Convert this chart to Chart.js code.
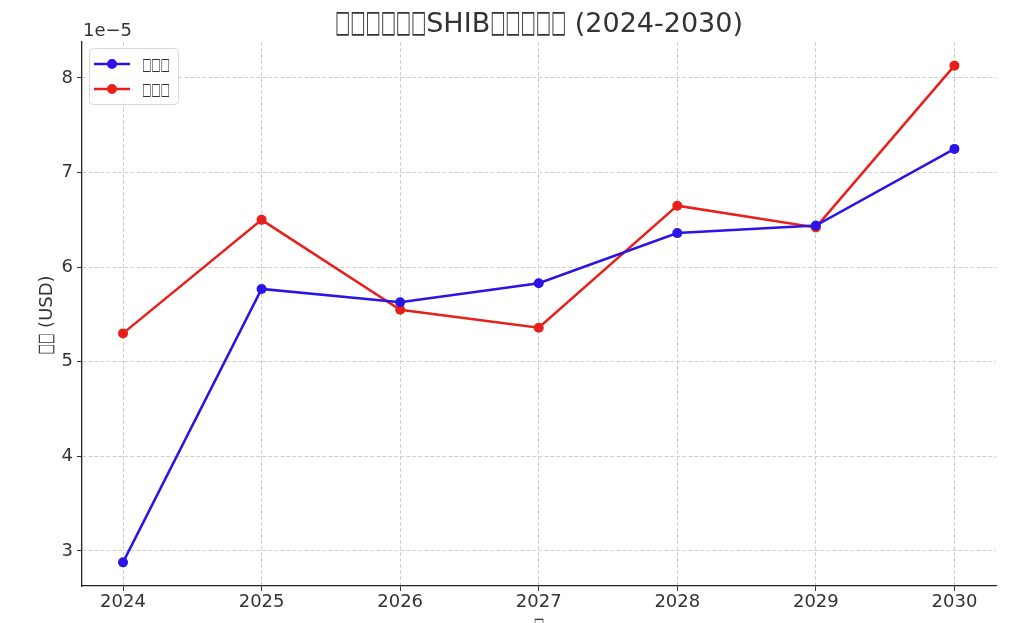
<!DOCTYPE html>
<html>
<head>
<meta charset="utf-8">
<script src="https://cdn.jsdelivr.net/npm/chart.js@4.4.0/dist/chart.umd.min.js"></script>
<style>
  html, body { margin: 0; padding: 0; background: #fff; }
  #wrap { width: 1024px; height: 623px; }
</style>
</head>
<body>
<div id="wrap"><canvas id="chart" width="1024" height="623"></canvas></div>
<script>
// values are in units of 1e-5 USD (offset label "1e−5" on the axis)
const years = [2024, 2025, 2026, 2027, 2028, 2029, 2030];
const seriesBlue = [2.88, 5.77, 5.63, 5.83, 6.36, 6.44, 7.25];
const seriesRed = [5.30, 6.50, 5.55, 5.36, 6.65, 6.42, 8.13];
const yTicks = [3, 4, 5, 6, 7, 8];

const titleText = '□□□□□□SHIB□□□□□ (2024-2030)';
const yLabelText = '□□ (USD)';
const xLabelText = '□';
const legendBlue = '□□□';
const legendRed = '□□□';

const FONT = '"DejaVu Sans", sans-serif';
const TEXT = '#333';

// draws text where tofu runs get squeezed to look like missing-glyph boxes
function drawMixed(ctx, text, x, y, size, boxW, align) {
    ctx.font = size + 'px ' + FONT;
    const runs = text.match(/□+|[^□]+/g);
    const widths = runs.map(r => r[0] === '□' ? r.length * boxW : ctx.measureText(r).width);
    const total = widths.reduce((a, b) => a + b, 0);
    let cx = align === 'center' ? x - total / 2 : x;
    const natural = ctx.measureText('□').width;
    runs.forEach((r, i) => {
        if (r[0] === '□') {
            ctx.save();
            ctx.translate(cx, y);
            ctx.scale(boxW / natural, 1.15);
            ctx.fillText(r, 0, 0);
            ctx.restore();
        } else {
            ctx.fillText(r, cx, y);
        }
        cx += widths[i];
    });
}

const textPlugin = {
    id: 'textPlugin',
    afterDraw(chart) {
        const ctx = chart.ctx;
        const area = chart.chartArea;
        ctx.save();
        ctx.fillStyle = TEXT;
        ctx.textAlign = 'left';
        ctx.textBaseline = 'alphabetic';

        // title
        drawMixed(ctx, titleText, (area.left + area.right) / 2, 32, 27, 15.2, 'center');

        // offset text
        ctx.font = '18px ' + FONT;
        ctx.fillText('1e\u22125', 83, 36);

        // y label
        ctx.save();
        ctx.translate(52, 315);
        ctx.rotate(-Math.PI / 2);
        drawMixed(ctx, yLabelText, 0, 0, 18, 10.5, 'center');
        ctx.restore();

        // x label (cut off at the bottom)
        drawMixed(ctx, xLabelText, (area.left + area.right) / 2, 632, 18, 10.5, 'center');

        // legend
        const lx = 89, ly = 48, lw = 89, lh = 56;
        ctx.beginPath();
        ctx.roundRect(lx + 0.5, ly + 0.5, lw, lh, 4);
        ctx.fillStyle = 'rgba(255,255,255,0.85)';
        ctx.fill();
        ctx.strokeStyle = '#d8d8d8';
        ctx.lineWidth = 1;
        ctx.stroke();
        const items = [
            { label: legendBlue, color: chart.data.datasets[0].borderColor, y: 64 },
            { label: legendRed, color: chart.data.datasets[1].borderColor, y: 89 }
        ];
        items.forEach(it => {
            ctx.strokeStyle = it.color;
            ctx.lineWidth = 2.5;
            ctx.beginPath();
            ctx.moveTo(94, it.y);
            ctx.lineTo(130, it.y);
            ctx.stroke();
            ctx.fillStyle = it.color;
            ctx.beginPath();
            ctx.arc(112, it.y, 5, 0, Math.PI * 2);
            ctx.fill();
            ctx.fillStyle = TEXT;
            drawMixed(ctx, it.label, 142, it.y + 6, 15, 9.3, 'left');
        });
        ctx.restore();
    }
};

const blue = '#2a14e6';
const red = '#e8201c';

function lineSet(label, values, color) {
    return {
        label: label,
        data: years.map((y, i) => ({ x: y, y: values[i] })),
        borderColor: color,
        backgroundColor: color,
        borderWidth: 2.5,
        pointRadius: 5,
        pointBorderWidth: 0,
        pointBackgroundColor: color,
        fill: false,
        tension: 0
    };
}

const gridOpts = {
    color: '#d0d0d0',
    lineWidth: 1,
    tickColor: '#333',
    tickLength: 5,
    tickWidth: 1
};

new Chart(document.getElementById('chart').getContext('2d'), {
    type: 'line',
    data: {
        datasets: [
            lineSet(legendBlue, seriesBlue, blue),
            lineSet(legendRed, seriesRed, red)
        ]
    },
    options: {
        responsive: false,
        animation: false,
        devicePixelRatio: 1,
        layout: { padding: { top: 42, right: 28, left: 0, bottom: 0 } },
        plugins: {
            legend: { display: false },
            tooltip: { enabled: false },
            title: { display: false }
        },
        scales: {
            x: {
                type: 'linear',
                min: 2023.704,
                max: 2030.30,
                afterFit: s => { s.height = 37; },
                afterBuildTicks: s => { s.ticks = years.map(v => ({ value: v })); },
                ticks: {
                    color: TEXT,
                    font: { family: FONT, size: 18 },
                    padding: 1,
                    maxRotation: 0,
                    autoSkip: false,
                    callback: v => String(v)
                },
                grid: gridOpts,
                border: { color: '#222', width: 1.3, dash: [4, 2] }
            },
            y: {
                type: 'linear',
                min: 2.63,
                max: 8.38,
                afterFit: s => { s.width = 82; },
                afterBuildTicks: s => { s.ticks = yTicks.map(v => ({ value: v })); },
                ticks: {
                    color: TEXT,
                    font: { family: FONT, size: 18 },
                    padding: 4,
                    callback: v => String(v)
                },
                grid: gridOpts,
                border: { color: '#222', width: 1.3, dash: [4, 2] }
            }
        }
    },
    plugins: [textPlugin]
});
</script>
</body>
</html>
